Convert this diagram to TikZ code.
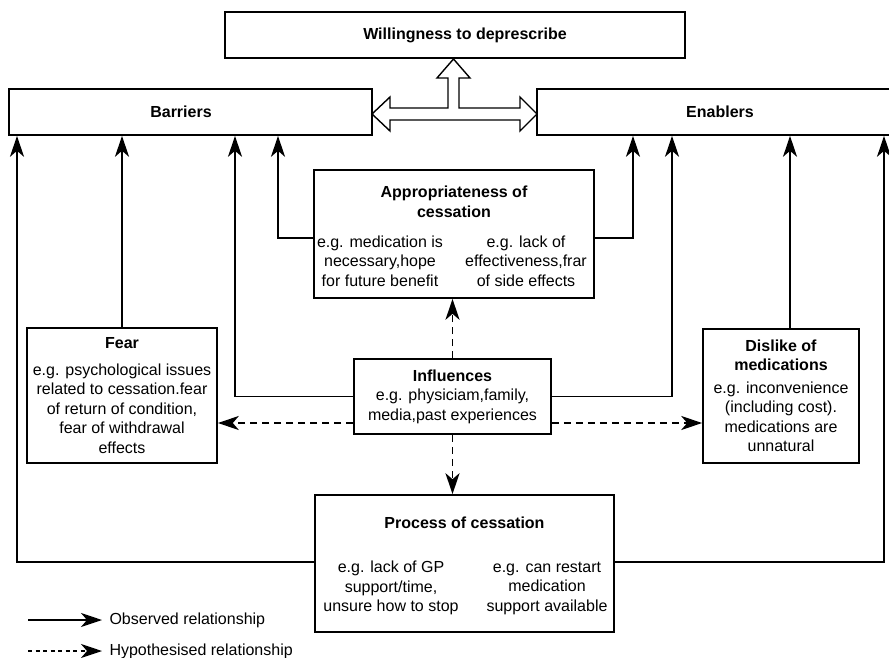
\documentclass[tikz,border=0pt]{standalone}
\usepackage{fontspec}
\setmainfont{Liberation Sans}
\usetikzlibrary{arrows.meta}

\tikzset{
    box/.style={draw, line width=1.6pt, inner sep=0pt, align=center},
    txt/.style={align=center, inner sep=0pt},
    ttl/.style={txt, font=\fontsize{16}{19.5}\selectfont\bfseries},
    obs/.style={line width=1.6pt, -{Stealth[length=21pt,width=14pt,inset=6pt]}},
    hyp/.style={line width=1.6pt, dash pattern=on 7pt off 5pt,
        -{Stealth[length=21pt,width=14pt,inset=6pt]}},
}

\begin{document}
\begin{tikzpicture}[x=1pt, y=-1pt, every node/.style={font=\fontsize{16}{19.5}\selectfont}]
    \useasboundingbox (0,0) rectangle (889,658);
    % boxes
    \node[box, minimum width=460, minimum height=46] (will) at (455,35) {};
    \node[box, minimum width=363, minimum height=46] (barr) at (190.5,112) {};
    \node[box, minimum width=366, minimum height=46] (enab) at (720,112) {};
    \node[box, minimum width=280, minimum height=128] (appr) at (454,234) {};
    \node[box, minimum width=190, minimum height=135] (fear) at (122,395.5)
        {\textbf{Fear}\\[7pt] e.g. psychological issues\\related to cessation.fear\\of return of condition,\\fear of withdrawal\\effects};
    \node[box, minimum width=197, minimum height=75] (infl) at (452.5,396.5)
        {\textbf{Influences}\\e.g. physiciam,family,\\media,past experiences};
    \node[box, minimum width=156, minimum height=134] (disl) at (781,396)
        {\textbf{Dislike of}\\\textbf{medications}\\[3pt] e.g. inconvenience\\(including cost).\\medications are\\unnatural};
    \node[box, minimum width=299, minimum height=137] (proc) at (464.5,563.5) {};
    % texts
    \node[ttl] (willT) at (465,35) {Willingness to deprescribe};
    \node[ttl] (barrT) at (181,112) {Barriers};
    \node[ttl] (enabT) at (720,112) {Enablers};
    \node[ttl] (apprT) at (454,202) {Appropriateness of\\cessation};
    \node[txt] (apprL) at (380,261) {e.g. medication is\\necessary,hope\\for future benefit};
    \node[txt] (apprR) at (526,261) {e.g. lack of\\effectiveness,frar\\of side effects};
    \node[ttl] (procT) at (464.5,523) {Process of cessation};
    \node[txt] (procL) at (391,588) {e.g. lack of GP\\support/time,\\unsure how to stop};
    \node[txt] (procR) at (547,588) {e.g. can restart\\medication\\support available};
    % open arrow
    \draw[line width=1.4pt, fill=white] (372,114) -- (390,97) -- (390,108) -- (448,108)
        -- (448,78) -- (437,78) -- (453.5,59) -- (470,78) -- (459,78) -- (459,108)
        -- (520,108) -- (520,97) -- (537,114) -- (520,131) -- (520,120) -- (390,120)
        -- (390,131) -- cycle;
    % observed
    \draw[obs] (fear.north) -- (fear.north |- barr.south);
    \draw[obs] (infl.west) -| (235,0 |- barr.south);
    \draw[obs] (infl.east) -| (672,0 |- enab.south);
    \draw[obs] ([yshift=-4pt]appr.west) -| (278,0 |- barr.south);
    \draw[obs] ([yshift=-4pt]appr.east) -| (633,0 |- enab.south);
    \draw[obs] ([xshift=9pt]disl.north) -- ([xshift=9pt]disl.north |- enab.south);
    \draw[obs] ([yshift=1.5pt]proc.west) -| (17,0 |- barr.south);
    \draw[obs] ([yshift=1.5pt]proc.east) -| (884,0 |- enab.south);
    % hypothesised
    \coordinate (lvl) at (0,423);
    \draw[hyp] (infl.north) -- (infl.north |- appr.south);
    \draw[hyp] (infl.south) -- (infl.south |- proc.north);
    \draw[hyp] (infl.west |- lvl) -- (fear.east |- lvl);
    \draw[hyp] (infl.east |- lvl) -- (disl.west |- lvl);
    % legend
    \coordinate (o1) at (28,620);
    \coordinate (o2) at (102,620);
    \coordinate (h1) at (28,651);
    \coordinate (h2) at (102,651);
    \draw[obs] (o1) -- (o2);
    \draw[obs, dash pattern=on 4pt off 3.5pt] (h1) -- (h2);
    \node[anchor=west] (obsT) at ([xshift=4pt]o2) {Observed relationship};
    \node[anchor=west] (hypT) at ([xshift=4pt]h2) {Hypothesised relationship};
\end{tikzpicture}
\end{document}
